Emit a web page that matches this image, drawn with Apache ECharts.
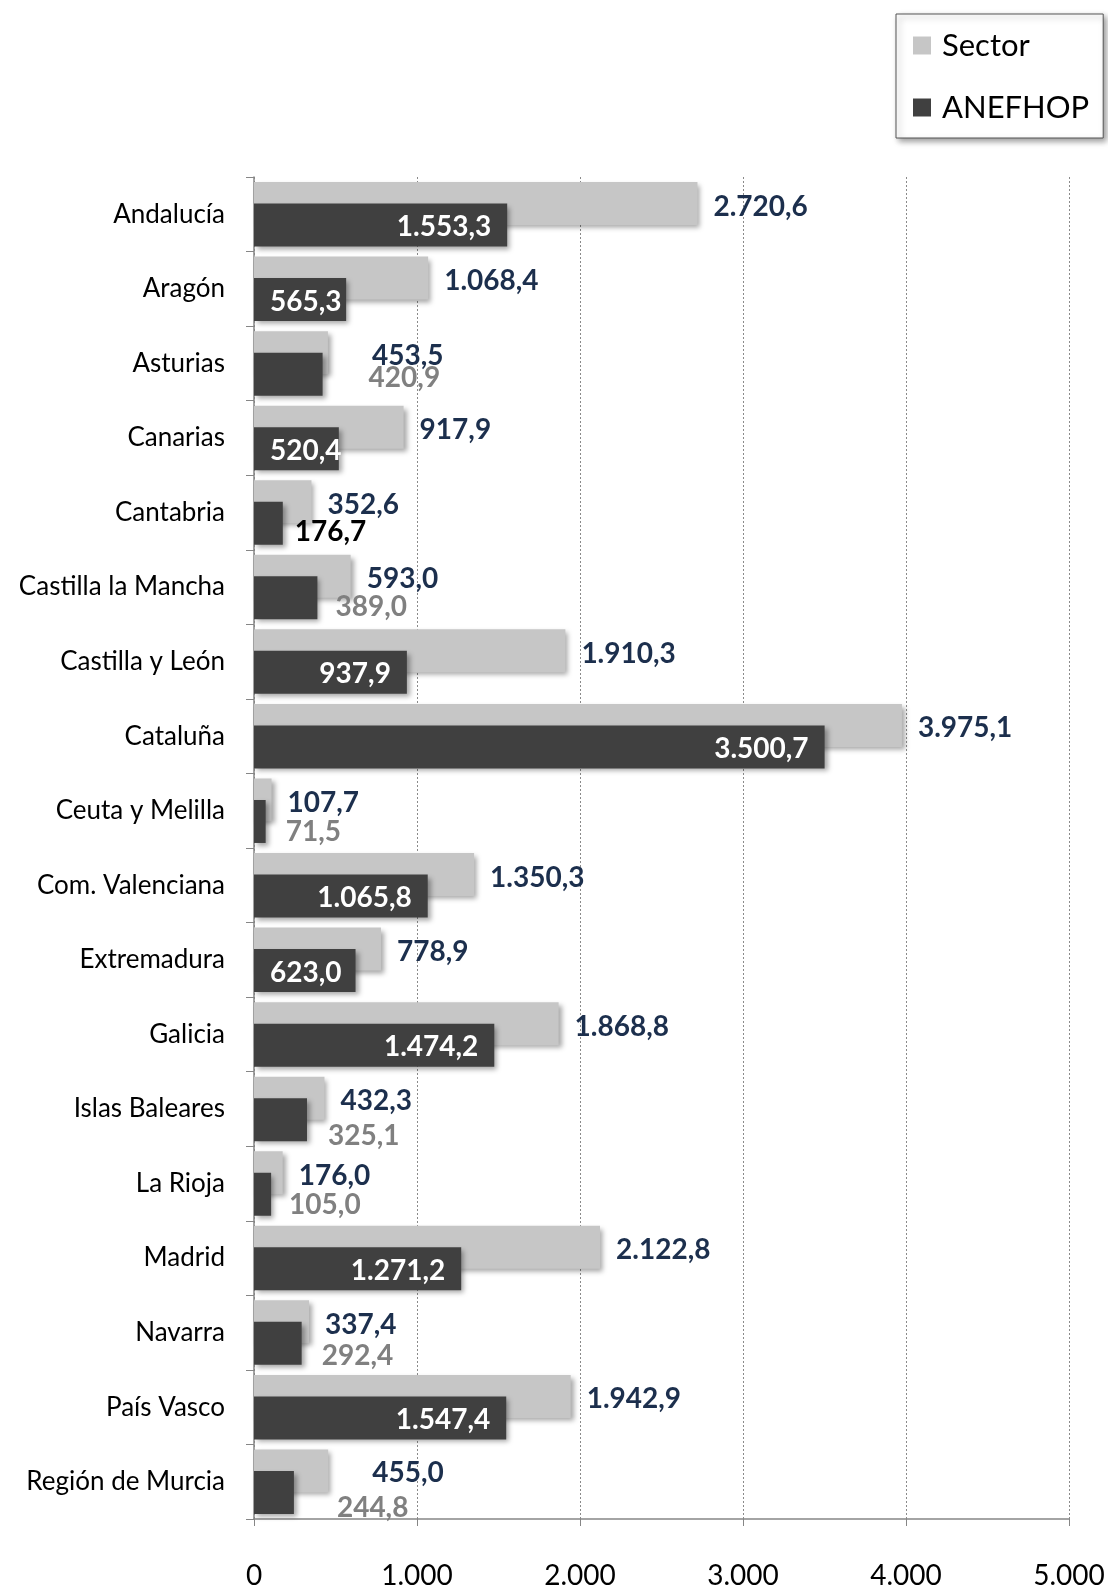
<!DOCTYPE html>
<html>
<head>
<meta charset="utf-8">
<script src="https://cdn.jsdelivr.net/npm/echarts@6/dist/echarts.min.js"></script>
<style>
  html, body { margin: 0; padding: 0; background: #fff; }
  #chart { width: 1108px; height: 1590px; }
</style>
</head>
<body>
<div id="chart"></div>
<script>
var regions = ['Andalucía', 'Aragón', 'Asturias', 'Canarias', 'Cantabria', 'Castilla la Mancha',
  'Castilla y León', 'Cataluña', 'Ceuta y Melilla', 'Com. Valenciana', 'Extremadura', 'Galicia',
  'Islas Baleares', 'La Rioja', 'Madrid', 'Navarra', 'País Vasco', 'Región de Murcia'];
var sector = [2720.6, 1068.4, 453.5, 917.9, 352.6, 593.0, 1910.3, 3975.1, 107.7, 1350.3,
  778.9, 1868.8, 432.3, 176.0, 2122.8, 337.4, 1942.9, 455.0];
var anefhop = [1553.3, 565.3, 420.9, 520.4, 176.7, 389.0, 937.9, 3500.7, 71.5, 1065.8,
  623.0, 1474.2, 325.1, 105.0, 1271.2, 292.4, 1547.4, 244.8];
var xTicks = [0, 1000, 2000, 3000, 4000, 5000];

var FONT = 'Lato, "Open Sans", sans-serif';
var NAVY = '#1c2f4d';

// formato español: 2.720,6
function fmt(v, dec) {
  var s = v.toFixed(dec);
  var parts = s.split('.');
  var ent = parts[0].replace(/\B(?=(\d{3})+(?!\d))/g, '.');
  return parts.length > 1 ? ent + ',' + parts[1] : ent;
}

// etiquetas colocadas a mano (como en el original)
var sectorShift = { 2: [28, 3], 17: [28, 2] };
var anefOutside = {
  2: { offset: [41, 4], color: '#808080' },
  4: { offset: [7, 9], color: '#000' },
  5: { offset: [13, 9], color: '#808080' },
  8: { offset: [15, 10], color: '#808080' },
  12: { offset: [16, 16], color: '#808080' },
  13: { offset: [13, 11], color: '#808080' },
  15: { offset: [15, 13], color: '#808080' },
  17: { offset: [38, 15], color: '#808080' }
};
var anefLeft = { 1: true, 3: true, 10: true };

var sectorData = sector.map(function (v, i) {
  var item = { value: v };
  if (sectorShift[i]) item.label = { offset: sectorShift[i] };
  return item;
});
var anefData = anefhop.map(function (v, i) {
  var item = { value: v };
  if (anefOutside[i]) {
    item.label = { position: 'right', distance: 5, offset: anefOutside[i].offset, color: anefOutside[i].color };
  } else if (anefLeft[i]) {
    item.label = { position: 'insideLeft', distance: 16 };
  }
  return item;
});

var shadow = { shadowBlur: 5, shadowOffsetX: 3, shadowOffsetY: 3, shadowColor: 'rgba(0,0,0,0.35)' };

var myChart = echarts.init(document.getElementById('chart'));
myChart.setOption({
  animation: false,
  textStyle: { fontFamily: FONT },
  legend: {
    data: ['Sector', 'ANEFHOP'],
    orient: 'vertical',
    left: 896,
    top: 14,
    padding: [16, 14, 15, 17],
    itemGap: 31,
    itemWidth: 18,
    itemHeight: 18,
    icon: 'rect',
    backgroundColor: '#fff',
    borderColor: '#555',
    borderWidth: 1,
    shadowBlur: 6,
    shadowOffsetX: 3,
    shadowOffsetY: 3,
    shadowColor: 'rgba(0,0,0,0.4)',
    textStyle: { fontSize: 31, color: '#000', fontFamily: FONT, lineHeight: 30, padding: [0, 0, 0, 6] }
  },
  grid: { left: 254, right: 39, top: 177, bottom: 68, containLabel: false },
  xAxis: {
    type: 'value',
    min: xTicks[0],
    max: xTicks[xTicks.length - 1],
    interval: 1000,
    axisLine: { show: true, lineStyle: { color: '#868686', width: 1.5 } },
    axisTick: { show: true, length: 7, lineStyle: { color: '#868686' } },
    splitLine: { show: true, lineStyle: { color: '#8a8a8a', type: [2, 2], width: 1 } },
    axisLabel: {
      margin: 43, fontSize: 28, color: '#000', fontFamily: FONT,
      formatter: function (v) { return fmt(v, 0); }
    }
  },
  yAxis: {
    type: 'category',
    data: regions,
    inverse: true,
    axisLine: { show: true, lineStyle: { color: '#868686', width: 1.5 } },
    axisTick: { show: true, length: 8, lineStyle: { color: '#868686' } },
    axisLabel: { margin: 29, fontSize: 26, color: '#000', fontFamily: FONT }
  },
  series: [
    {
      name: 'Sector',
      type: 'bar',
      data: sectorData,
      barWidth: 43,
      barGap: '-50%',
      itemStyle: Object.assign({ color: '#c6c6c6' }, shadow),
      label: {
        show: true, position: 'right', distance: 16, offset: [0, 3],
        color: NAVY, fontSize: 28, fontWeight: 'bold', fontFamily: FONT,
        formatter: function (p) { return fmt(p.value, 1); }
      }
    },
    {
      name: 'ANEFHOP',
      type: 'bar',
      data: anefData,
      barWidth: 43,
      barGap: '-50%',
      itemStyle: Object.assign({ color: '#404040' }, shadow),
      label: {
        show: true, position: 'insideRight', distance: 16, offset: [0, 2],
        color: '#fff', fontSize: 28, fontWeight: 'bold', fontFamily: FONT,
        formatter: function (p) { return fmt(p.value, 1); }
      }
    }
  ]
});
</script>
</body>
</html>
